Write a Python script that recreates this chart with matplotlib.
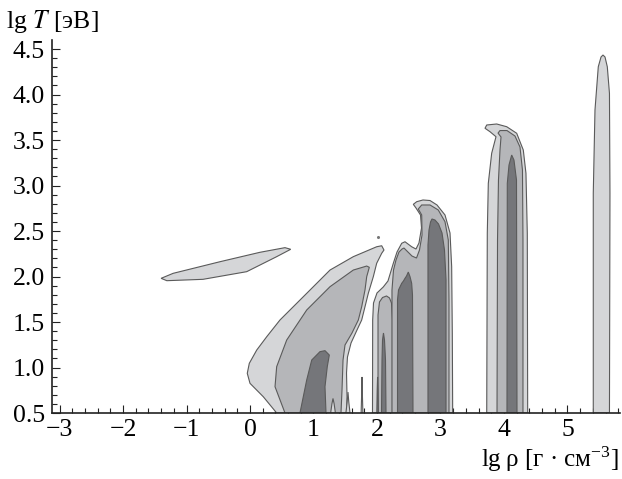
import matplotlib
matplotlib.use("Agg")
import matplotlib.pyplot as plt
from matplotlib.ticker import MultipleLocator

plt.rcParams['font.family'] = ['Liberation Serif', 'DejaVu Serif']
plt.rcParams['mathtext.fontset'] = 'stix'

# contour outlines, (lg rho, lg T) pairs
# level 1 = light, level 2 = medium, level 3 = dark
sliver_x = [-1.40, -1.21, -0.47, 0.157, 0.551, 0.641, 0.42, -0.052, -0.74, -1.31]
sliver_y = [1.98, 2.035, 2.163, 2.266, 2.317, 2.299, 2.218, 2.053, 1.969, 1.954]

wing1_x = [0.420, 0.209, 0.0, -0.043, -0.011, 0.106, 0.263, 0.472, 0.893, 1.26, 1.627, 1.995,
           2.074, 2.11, 2.074, 1.995, 1.942, 1.863, 1.811, 1.759, 1.685, 1.591, 1.535, 1.52, 1.528, 1.52]
wing1_y = [0.5, 0.679, 0.826, 0.936, 1.046, 1.192, 1.338, 1.522, 1.815, 2.071, 2.218, 2.327,
           2.338, 2.291, 2.255, 2.145, 1.998, 1.815, 1.668, 1.522, 1.412, 1.269, 1.115, 0.94, 0.676, 0.5]
wing2_x = [0.551, 0.394, 0.42, 0.578, 0.893, 1.26, 1.627, 1.838, 1.879, 1.838, 1.811, 1.759,
           1.706, 1.606, 1.496, 1.465, 1.449, 1.433]
wing2_y = [0.5, 0.789, 1.009, 1.302, 1.632, 1.888, 2.071, 2.115, 2.101, 1.998, 1.852, 1.668,
           1.522, 1.379, 1.247, 1.082, 0.753, 0.5]
wing3_x = [0.787, 0.893, 0.972, 1.102, 1.181, 1.249, 1.217, 1.181, 1.197]
wing3_y = [0.5, 0.863, 1.082, 1.174, 1.185, 1.137, 1.009, 0.789, 0.5]

# small spikes at the bottom of the wing (level 1)
spikes_x = [[1.27, 1.29, 1.307, 1.325, 1.345],
            [1.51, 1.53, 1.543, 1.556, 1.575],
            [1.75, 1.758, 1.764, 1.77, 1.778]]
spikes_y = [[0.5, 0.6, 0.66, 0.6, 0.5],
            [0.5, 0.62, 0.73, 0.62, 0.5],
            [0.5, 0.7, 0.896, 0.7, 0.5]]

# columns between lg rho = 2 and 3.2
colA1_x = [1.929, 1.932, 1.945, 2.0, 2.099, 2.173, 2.257, 2.315, 2.389, 2.441, 2.546, 2.614, 2.661,
           2.701, 2.685, 2.614, 2.572, 2.625, 2.724, 2.835, 2.945, 3.071, 3.150, 3.176, 3.186, 3.192]
colA1_y = [0.5, 1.522, 1.709, 1.819, 1.885, 1.951, 2.145, 2.269, 2.365, 2.382, 2.327, 2.302, 2.368,
           2.533, 2.676, 2.753, 2.793, 2.822, 2.841, 2.835, 2.786, 2.676, 2.478, 2.108, 1.379, 0.5]
colA2a_x = [2.016, 2.016, 2.039, 2.087, 2.15, 2.197, 2.228, 2.244, 2.244]
colA2a_y = [0.5, 1.577, 1.72, 1.769, 1.786, 1.764, 1.709, 1.522, 0.5]
colA2b_x = [2.236, 2.236, 2.260, 2.299, 2.346, 2.394, 2.425, 2.472, 2.551, 2.622, 2.669, 2.709,
            2.704, 2.650, 2.704, 2.835, 2.965, 3.071, 3.123, 3.134, 3.134]
colA2b_y = [0.5, 1.852, 2.071, 2.181, 2.269, 2.302, 2.313, 2.280, 2.225, 2.203, 2.291, 2.456,
            2.676, 2.742, 2.786, 2.786, 2.731, 2.602, 2.401, 1.742, 0.5]
colA3_x = [[1.997, 2.003, 2.009, 2.016, 2.022],
           [2.071, 2.079, 2.087, 2.102, 2.118, 2.134, 2.142],
           [2.323, 2.323, 2.339, 2.389, 2.417, 2.441, 2.465, 2.493, 2.520, 2.546, 2.559, 2.567],
           [2.803, 2.803, 2.819, 2.843, 2.866, 2.913, 2.969, 3.024, 3.063, 3.087, 3.087]]
colA3_y = [[0.5, 0.753, 0.896, 0.753, 0.5],
           [0.5, 1.082, 1.302, 1.379, 1.302, 1.082, 0.5],
           [0.5, 1.742, 1.852, 1.925, 1.951, 1.980, 2.005, 2.049, 1.998, 1.925, 1.797, 0.5],
           [0.5, 2.346, 2.511, 2.599, 2.632, 2.621, 2.577, 2.478, 2.291, 1.962, 0.5]]

# column at lg rho ~ 4
colB1_x = [3.728, 3.737, 3.753, 3.806, 3.874, 3.780, 3.701, 3.728, 3.885, 4.043, 4.200, 4.304,
           4.346, 4.367, 4.373]
colB1_y = [0.5, 2.475, 3.024, 3.354, 3.536, 3.591, 3.629, 3.665, 3.676, 3.646, 3.574, 3.390,
           3.134, 2.475, 0.5]
colB2_x = [3.890, 3.898, 3.913, 3.937, 3.953, 3.906, 3.937, 4.047, 4.173, 4.252, 4.291, 4.299, 4.299]
colB2_y = [0.5, 2.401, 3.060, 3.390, 3.533, 3.576, 3.604, 3.604, 3.544, 3.423, 3.170, 2.401, 0.5]
colB3_x = [4.047, 4.052, 4.079, 4.121, 4.157, 4.197, 4.205]
colB3_y = [0.5, 3.024, 3.225, 3.335, 3.280, 3.060, 0.5]

# column at lg rho ~ 5.5
colC1_x = [5.406, 5.406, 5.433, 5.485, 5.528, 5.559, 5.591, 5.627, 5.661, 5.669, 5.661]
colC1_y = [0.5, 2.914, 3.830, 4.305, 4.412, 4.434, 4.412, 4.305, 4.013, 2.914, 0.5]

dot_x, dot_y = [2.016], [2.434]

light, medium, dark = '#d5d6d8', '#b5b6b9', '#75767a'
edge = '#5a5a5a'

fig = plt.figure(figsize=(6.22, 4.79), dpi=100)
ax = fig.add_axes([51.7 / 622, 1 - 413 / 479, (620 - 51.7) / 622, (413 - 40) / 479])

def patch(x, y, c):
    ax.fill(x, y, facecolor=c, edgecolor=edge, linewidth=0.8, zorder=2)

for x, y in [(sliver_x, sliver_y), (wing1_x, wing1_y), (colA1_x, colA1_y),
             (colB1_x, colB1_y), (colC1_x, colC1_y)]:
    patch(x, y, light)
for x, y in [(wing2_x, wing2_y), (colA2a_x, colA2a_y), (colA2b_x, colA2b_y), (colB2_x, colB2_y)]:
    patch(x, y, medium)
for x, y in zip(spikes_x, spikes_y):
    patch(x, y, light)
for x, y in [(wing3_x, wing3_y), (colB3_x, colB3_y)] + list(zip(colA3_x, colA3_y)):
    patch(x, y, dark)
ax.plot(dot_x, dot_y, 'o', ms=1.2, color='#777777')

ax.set_xlim(-3.123, 5.827)
ax.set_ylim(0.5, 4.599)
ax.xaxis.set_major_locator(MultipleLocator(1))
ax.xaxis.set_minor_locator(MultipleLocator(0.2))
ax.yaxis.set_major_locator(MultipleLocator(0.5))
ax.yaxis.set_minor_locator(MultipleLocator(0.1))
ax.yaxis.set_major_formatter(matplotlib.ticker.FormatStrFormatter('%.1f'))
ax.spines['top'].set_visible(False)
ax.spines['right'].set_visible(False)
for s in ['left', 'bottom']:
    ax.spines[s].set_linewidth(1.2)
    ax.spines[s].set_color('#222222')
    ax.spines[s].set_zorder(5)
ax.tick_params(which='both', direction='in', colors='#222222', labelsize=18.5, width=0.8)
ax.tick_params(axis='y', pad=5)
ax.tick_params(axis='x', pad=4)
ax.tick_params(which='major', length=5.5)
ax.tick_params(which='minor', length=3.6)
for lab in ax.get_xticklabels() + ax.get_yticklabels():
    lab.set_color('black')

fig.text(6 / 622, 1 - 28 / 479, 'lg $T$ [эВ]', fontsize=18.5, va='baseline', ha='left')
fig.text(619 / 622, 1 - 467 / 479, 'lg\u2009ρ [г · см$^{\\mathregular{-3}}$]', fontsize=18,
         va='baseline', ha='right')

fig.savefig('out.png', dpi=100)
